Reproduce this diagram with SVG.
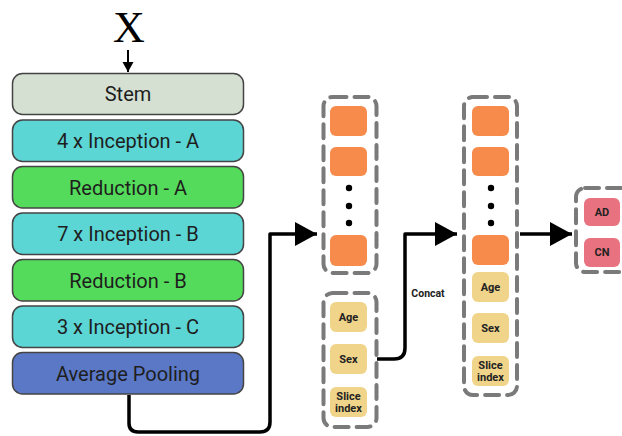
<svg xmlns="http://www.w3.org/2000/svg" width="622" height="436" viewBox="0 0 622 436">
<style>
.blk{stroke:#444;stroke-width:1.5}
.bt{font-family:Roboto,"Liberation Sans",sans-serif;font-size:20px;fill:#1e1e1e;text-anchor:middle;dominant-baseline:central}
.dash{fill:none;stroke:#7a7a7a;stroke-width:4;stroke-dasharray:14 8;stroke-linecap:round}
.or{fill:#f78b4b}
.ye{fill:#f0d48a}
.pk{fill:#e8727f}
.st{font-family:Roboto,"Liberation Sans",sans-serif;font-weight:bold;font-size:11px;fill:#222;text-anchor:middle;dominant-baseline:central}
.conn{fill:none;stroke:#000;stroke-width:3.5;stroke-linejoin:round}
.dot{fill:#000}
</style>
<defs>
<marker id="big" markerUnits="userSpaceOnUse" markerWidth="24" markerHeight="26" refX="22" refY="12" orient="auto"><path d="M0,0 L22,12 L0,24 Z" fill="#000"/></marker>
<marker id="small" markerUnits="userSpaceOnUse" markerWidth="12" markerHeight="12" refX="10" refY="5.5" orient="auto"><path d="M0,0 L10,5.5 L0,11 Z" fill="#000"/></marker>
</defs>
<rect width="622" height="436" fill="#fff"/>

<g id="input">
<text x="129" y="42" font-family="Liberation Serif,serif" font-size="44" text-anchor="middle">X</text>
</g>

<g id="stem"><rect class="blk" x="12.5" y="73.5" width="231" height="41" rx="10" fill="#d5e0d3"/><text class="bt" x="128" y="94">Stem</text></g>
<g id="incA"><rect class="blk" x="12.5" y="120" width="231" height="41.5" rx="10" fill="#5cd5d5"/><text class="bt" x="128" y="141">4 x Inception - A</text></g>
<g id="redA"><rect class="blk" x="12.5" y="166.5" width="231" height="41.5" rx="10" fill="#55db5b"/><text class="bt" x="128" y="187.5">Reduction - A</text></g>
<g id="incB"><rect class="blk" x="12.5" y="213" width="231" height="41.5" rx="10" fill="#5cd5d5"/><text class="bt" x="128" y="234">7 x Inception - B</text></g>
<g id="redB"><rect class="blk" x="12.5" y="259.5" width="231" height="41.5" rx="10" fill="#55db5b"/><text class="bt" x="128" y="280.5">Reduction - B</text></g>
<g id="incC"><rect class="blk" x="12.5" y="306" width="231" height="41.5" rx="10" fill="#5cd5d5"/><text class="bt" x="128" y="327">3 x Inception - C</text></g>
<g id="avgpool"><rect class="blk" x="12.5" y="352.5" width="231" height="41.5" rx="10" fill="#5b78c6"/><text class="bt" x="128" y="373.5">Average Pooling</text></g>

<g id="features1">
<rect class="dash" x="323.5" y="97" width="53" height="176" rx="9"/>
<rect class="or" x="330" y="106" width="37" height="30" rx="6"/>
<rect class="or" x="330" y="147" width="37" height="29" rx="6"/>
<circle class="dot" cx="349" cy="188" r="3.2"/>
<circle class="dot" cx="349" cy="206" r="3.2"/>
<circle class="dot" cx="349" cy="223" r="3.2"/>
<rect class="or" x="330" y="235" width="37" height="31" rx="6"/>
</g>

<g id="clinical">
<rect class="dash" x="323.5" y="293" width="53" height="134" rx="9"/>
<rect class="ye" x="330" y="302" width="37" height="30" rx="6"/><text class="st" x="348.5" y="317">Age</text>
<rect class="ye" x="330" y="344" width="37" height="30" rx="6"/><text class="st" x="348.5" y="359">Sex</text>
<rect class="ye" x="330" y="387" width="37" height="30" rx="6"/><text class="st" x="348.5" y="396">Slice</text><text class="st" x="348.5" y="408">index</text>
</g>

<g id="features2">
<rect class="dash" x="464" y="97" width="53" height="298" rx="9"/>
<rect class="or" x="472" y="106" width="37" height="30" rx="6"/>
<rect class="or" x="472" y="147" width="37" height="29" rx="6"/>
<circle class="dot" cx="491" cy="188" r="3.2"/>
<circle class="dot" cx="491" cy="206" r="3.2"/>
<circle class="dot" cx="491" cy="223" r="3.2"/>
<rect class="or" x="472" y="235" width="37" height="30" rx="6"/>
<rect class="ye" x="472" y="272" width="37" height="30" rx="6"/><text class="st" x="490.5" y="287">Age</text>
<rect class="ye" x="472" y="313" width="37" height="30" rx="6"/><text class="st" x="490.5" y="328">Sex</text>
<rect class="ye" x="472" y="356" width="37" height="30" rx="6"/><text class="st" x="490.5" y="365">Slice</text><text class="st" x="490.5" y="377">index</text>
</g>

<g id="output">
<rect class="dash" x="576" y="188" width="54" height="84" rx="9"/>
<rect class="pk" x="584" y="198" width="36" height="28" rx="6"/><text class="st" x="602" y="212" font-size="10">AD</text>
<rect class="pk" x="584" y="238" width="36" height="29" rx="6"/><text class="st" x="602" y="252.5" font-size="10">CN</text>
</g>

<g id="connectors">
<line x1="128" y1="50" x2="128" y2="72" stroke="#000" stroke-width="2" marker-end="url(#small)"/>
<path class="conn" d="M129,395 V423 Q129,432 138,432 H260 Q270,432 270,422 V234 H317" marker-end="url(#big)"/>
<path class="conn" d="M377,359 H394 Q405,359 405,348 V234 H457" marker-end="url(#big)"/>
<path class="conn" d="M520,234 H572" marker-end="url(#big)"/>
<text x="428" y="293" font-family="Roboto,'Liberation Sans',sans-serif" font-weight="bold" font-size="10.5" fill="#222" text-anchor="middle" dominant-baseline="central">Concat</text>
</g>
</svg>
